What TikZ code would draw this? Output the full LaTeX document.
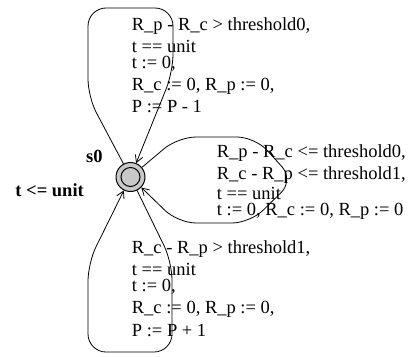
\documentclass[tikz,border=0pt]{standalone}
\usepackage{fontspec}
\setmainfont{Liberation Serif}
\usetikzlibrary{arrows.meta}
\definecolor{nodegray}{RGB}{200,200,200}
\tikzset{
  edge/.style={line width=0.8pt, rounded corners=18pt, -{Straight Barb[length=7pt,width=8pt]}},
  lbl/.style={anchor=base west, inner sep=0pt, font=\fontsize{18.5pt}{20pt}\selectfont},
  boldlbl/.style={inner sep=0pt, font=\fontsize{18.5pt}{20pt}\selectfont\bfseries},
  loc/.style={circle, draw, line width=1pt, fill=nodegray, minimum size=29pt, inner sep=0pt}
}
\begin{document}
\begin{tikzpicture}[x=1pt,y=-1pt]
\useasboundingbox (0,0) rectangle (411,356);
\node[loc] (s0) at (130.5,177) {};
\draw[line width=1pt] (s0.center) circle[radius=9.5pt];
\node[boldlbl, anchor=base west] (name) at (86,162) {s0};
\node[boldlbl, anchor=base east] (inv) at (84,196) {t <= unit};
% top loop
\draw[edge] (s0) -- (88,97) -- (88,8) -- (173,8) -- (173,72) -- (s0);
% right loop
\draw[edge] (s0) -- (178,137) -- (255,137) -- (294,180) -- (250,223) -- (178,223) -- (s0);
% bottom loop
\draw[edge] (s0) -- (172,262) -- (172,352) -- (88,352) -- (88,263) -- (s0);
% top labels
\node[lbl] (t1) at (131.7,30) {R\_p - R\_c > threshold0,};
\node[lbl] (t2) at (131.7,52) {t == unit};
\node[lbl] (t3) at (131.7,68) {t := 0,};
\node[lbl] (t4) at (131.7,90) {R\_c := 0, R\_p := 0,};
\node[lbl] (t5) at (131.7,112) {P := P - 1};
% right labels
\node[lbl] (r1) at (216.7,157) {R\_p - R\_c <= threshold0,};
\node[lbl] (r2) at (216.7,179) {R\_c - R\_p <= threshold1,};
\node[lbl] (r3) at (216.7,199) {t == unit};
\node[lbl] (r4) at (216.7,215) {t := 0, R\_c := 0, R\_p := 0};
% bottom labels
\node[lbl] (b1) at (131.7,253) {R\_c - R\_p > threshold1,};
\node[lbl] (b2) at (131.7,275) {t == unit};
\node[lbl] (b3) at (131.7,291) {t := 0,};
\node[lbl] (b4) at (131.7,313) {R\_c := 0, R\_p := 0,};
\node[lbl] (b5) at (131.7,336) {P := P + 1};
\end{tikzpicture}
\end{document}
